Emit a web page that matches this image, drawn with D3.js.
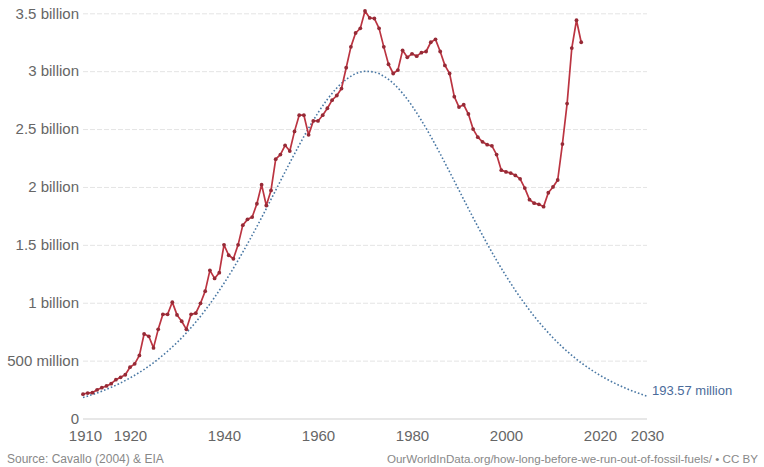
<!DOCTYPE html>
<html>
<head>
<meta charset="utf-8">
<script src="https://cdn.jsdelivr.net/npm/d3@7"></script>
<style>
  html, body { margin: 0; padding: 0; background: #fff; }
  svg { display: block; font-family: "Liberation Sans", Arial, sans-serif; }
</style>
</head>
<body>
<svg id="chart" width="764" height="467"></svg>
<script>
// ---- Data (billions of barrels per year) ----
const productionStartYear = 1910;
const production = [
  // 1910-1919
  0.210, 0.220, 0.223, 0.248, 0.266, 0.281, 0.301, 0.335, 0.356, 0.378,
  // 1920-1929
  0.443, 0.472, 0.545, 0.730, 0.710, 0.610, 0.770, 0.900, 0.900, 1.005,
  // 1930-1939
  0.895, 0.840, 0.770, 0.900, 0.910, 0.995, 1.100, 1.280, 1.210, 1.260,
  // 1940-1949
  1.500, 1.410, 1.380, 1.500, 1.670, 1.720, 1.740, 1.855, 2.020, 1.840,
  // 1950-1959
  1.970, 2.240, 2.280, 2.360, 2.310, 2.480, 2.620, 2.620, 2.450, 2.570,
  // 1960-1969
  2.570, 2.620, 2.680, 2.750, 2.790, 2.850, 3.030, 3.210, 3.330, 3.370,
  // 1970-1979
  3.520, 3.460, 3.455, 3.370, 3.210, 3.060, 2.980, 3.010, 3.180, 3.120,
  // 1980-1989
  3.150, 3.130, 3.160, 3.170, 3.250, 3.275, 3.170, 3.050, 2.980, 2.780,
  // 1990-1999
  2.690, 2.710, 2.630, 2.500, 2.430, 2.390, 2.365, 2.355, 2.280, 2.145,
  // 2000-2009
  2.130, 2.120, 2.100, 2.070, 1.990, 1.890, 1.860, 1.850, 1.830, 1.950,
  // 2010-2016
  2.000, 2.060, 2.370, 2.720, 3.200, 3.440, 3.250
];

// Hubbert-curve projection, read every 2 years (1910-2030)
const hubbertYears = [
  1910, 1912, 1914, 1916, 1918, 1920, 1922, 1924, 1926, 1928,
  1930, 1932, 1934, 1936, 1938, 1940, 1942, 1944, 1946, 1948,
  1950, 1952, 1954, 1956, 1958, 1960, 1962, 1964, 1966, 1968,
  1970, 1972, 1974, 1976, 1978, 1980, 1982, 1984, 1986, 1988,
  1990, 1992, 1994, 1996, 1998, 2000, 2002, 2004, 2006, 2008,
  2010, 2012, 2014, 2016, 2018, 2020, 2022, 2024, 2026, 2028, 2030
];
const hubbert = [
  0.181, 0.207, 0.236, 0.269, 0.307, 0.350, 0.398, 0.452, 0.513, 0.581,
  0.656, 0.740, 0.833, 0.935, 1.047, 1.168, 1.298, 1.437, 1.583, 1.735,
  1.892, 2.051, 2.209, 2.362, 2.507, 2.640, 2.757, 2.855, 2.929, 2.978,
  2.999, 2.992, 2.957, 2.895, 2.809, 2.701, 2.575, 2.436, 2.286, 2.130,
  1.972, 1.813, 1.659, 1.509, 1.366, 1.232, 1.106, 0.990, 0.883, 0.786,
  0.697, 0.617, 0.546, 0.481, 0.424, 0.373, 0.328, 0.288, 0.252, 0.221, 0.1936
];
const hubbertEndLabel = "193.57 million";

const xTicks = [1910, 1920, 1940, 1960, 1980, 2000, 2020, 2030];
const yTicks = [0, 0.5, 1, 1.5, 2, 2.5, 3, 3.5];
const yTickLabels = ["0", "500 million", "1 billion", "1.5 billion", "2 billion",
                     "2.5 billion", "3 billion", "3.5 billion"];

const sourceLeft = "Source: Cavallo (2004) & EIA";
const sourceRight = "OurWorldInData.org/how-long-before-we-run-out-of-fossil-fuels/ • CC BY";

// ---- Drawing ----
const svg = d3.select("#chart");
const plot = { left: 83, right: 647, top: 13.3, bottom: 418.5 };

const x = d3.scaleLinear().domain([1910, 2030]).range([plot.left, plot.right]);
const y = d3.scaleLinear().domain([0, 3.5]).range([plot.bottom, plot.top]);

// gridlines + y labels
const yAxis = d3.axisLeft(y)
  .tickValues(yTicks)
  .tickSize(-(plot.right - plot.left))
  .tickPadding(4)
  .tickFormat((d, i) => yTickLabels[i]);
const gy = svg.append("g")
  .attr("transform", `translate(${plot.left},0)`)
  .call(yAxis);
gy.select(".domain").remove();
gy.selectAll(".tick line")
  .attr("stroke", d => d === 0 ? "#cfcfcf" : "#e4e4e4")
  .attr("stroke-width", 1)
  .attr("stroke-dasharray", d => d === 0 ? null : "5,2");
gy.selectAll(".tick text")
  .attr("fill", "#666")
  .attr("font-size", "15px")
  .attr("font-family", "'Liberation Sans', Arial, sans-serif");

// x labels
const xAxis = d3.axisBottom(x)
  .tickValues(xTicks)
  .tickSize(0)
  .tickPadding(0)
  .tickFormat(d3.format("d"));
const gx = svg.append("g")
  .attr("transform", `translate(0,${plot.bottom})`)
  .call(xAxis);
gx.select(".domain").remove();
gx.selectAll(".tick text")
  .attr("fill", "#666")
  .attr("font-size", "15px")
  .attr("font-family", "'Liberation Sans', Arial, sans-serif")
  .attr("dy", null)
  .attr("y", 22.5);
gx.selectAll(".tick").filter(d => d === 1910).select("text").attr("dx", 2);

// Hubbert dotted curve
const hubData = hubbertYears.map((yr, i) => ({ year: yr, v: hubbert[i] }));
svg.append("path")
  .datum(hubData)
  .attr("fill", "none")
  .attr("stroke", "#4a78a4")
  .attr("stroke-width", 1.6)
  .attr("stroke-dasharray", "1.6,2.1")
  .attr("d", d3.line().x(d => x(d.year)).y(d => y(d.v)).curve(d3.curveMonotoneX));

// production line
const prodData = production.map((v, i) => ({ year: productionStartYear + i, v }));
svg.append("path")
  .datum(prodData)
  .attr("fill", "none")
  .attr("stroke", "#bb3441")
  .attr("stroke-width", 1.7)
  .attr("stroke-linejoin", "round")
  .attr("d", d3.line().x(d => x(d.year)).y(d => y(d.v)));
svg.append("g")
  .selectAll("circle")
  .data(prodData)
  .join("circle")
  .attr("cx", d => x(d.year))
  .attr("cy", d => y(d.v))
  .attr("r", 1.9)
  .attr("fill", "#962a36");

// end label of projection
const last = hubData[hubData.length - 1];
svg.append("text")
  .attr("x", x(last.year) + 5)
  .attr("y", y(last.v) - 1)
  .attr("fill", "#4a6b9a")
  .attr("font-size", "13px")
  .text(hubbertEndLabel);

// sources
svg.append("text")
  .attr("x", 7).attr("y", 463)
  .attr("fill", "#888")
  .attr("font-size", "12px")
  .text(sourceLeft);
svg.append("text")
  .attr("x", 758).attr("y", 463)
  .attr("text-anchor", "end")
  .attr("fill", "#888")
  .attr("font-size", "11.6px")
  .text(sourceRight);
</script>
</body>
</html>
